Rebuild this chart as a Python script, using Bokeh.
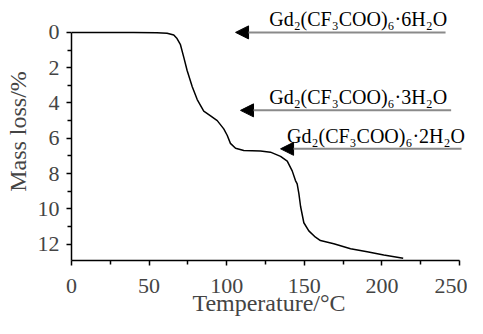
from bokeh.plotting import figure
from bokeh.models import Range1d, Arrow, NormalHead, FixedTicker, ColumnDataSource
from bokeh.core.properties import value
from bokeh.embed import file_html
from bokeh.resources import INLINE

# TG curve
temp = [0, 20, 40, 55, 61.6, 65.9, 68, 70.2, 72.4, 74.5, 77.8, 81, 85.2, 89.6, 93.9, 98.1,
        100.3, 102.4, 105.7, 111, 121.8, 128.2, 134.7, 139, 142.2, 144.3, 145.4, 146.5,
        147.6, 149.7, 152.9, 157.2, 160.4, 169, 179.8, 190.5, 201.2, 213.7]
mass_loss = [0.0, 0.0, 0.0, 0.02, 0.05, 0.15, 0.35, 0.7, 1.43, 2.16, 3.08, 3.81, 4.46, 4.73,
             5.0, 5.47, 5.83, 6.29, 6.57, 6.70, 6.72, 6.79, 7.03, 7.3, 7.85, 8.4, 8.59, 9.14,
             9.87, 10.79, 11.25, 11.61, 11.8, 11.98, 12.26, 12.44, 12.62, 12.8]

# annotations
labels = ["Gd\u2082(CF\u2083COO)\u2086\u00b76H\u2082O",
          "Gd\u2082(CF\u2083COO)\u2086\u00b73H\u2082O",
          "Gd\u2082(CF\u2083COO)\u2086\u00b72H\u2082O"]
arrow_tip_x = [105.7, 108.9, 134.7]
arrow_tail_x = [241.0, 244.6, 251.3]
arrow_y = [0.0, 4.42, 6.6]
label_right_x = [242.0, 242.0, 253.5]

x_ticks = [0, 50, 100, 150, 200, 250]
x_minor = [25, 75, 125, 175, 225]
y_ticks = [0, 2, 4, 6, 8, 10, 12]
y_minor = [1, 3, 5, 7, 9, 11]

FONT = "Liberation Serif"

p = figure(width=467, height=318, output_backend="svg", toolbar_location=None,
           x_range=Range1d(0, 254.5), y_range=Range1d(12.93, -1.694),
           min_border_left=71, min_border_right=1, min_border_top=2, min_border_bottom=57)
p.outline_line_color = None
p.grid.visible = False
p.background_fill_color = "white"

p.line(temp, mass_loss, line_color="black", line_width=1.5)

for i in range(len(labels)):
    p.add_layout(Arrow(end=NormalHead(size=13, fill_color="black", line_color="black", line_width=1),
                       x_start=arrow_tail_x[i], y_start=arrow_y[i],
                       x_end=arrow_tip_x[i], y_end=arrow_y[i],
                       line_color="#8a8a8a", line_width=2))

src = ColumnDataSource(dict(x=label_right_x, y=arrow_y, t=labels))
p.text(x="x", y="y", text="t", source=src, text_align="right", text_baseline="bottom",
       y_offset=-2, text_font=value(FONT), text_font_size="20px", text_color="black")

for ax in (p.xaxis[0], p.yaxis[0]):
    ax.axis_line_width = 1.5
    ax.major_tick_line_width = 1.5
    ax.minor_tick_line_width = 1.5
    ax.major_tick_in = 0
    ax.major_tick_out = 5
    ax.minor_tick_in = 0
    ax.minor_tick_out = 4
    ax.major_label_text_font = FONT
    ax.major_label_text_font_size = "22px"
    ax.axis_label_text_font = FONT
    ax.axis_label_text_font_size = "24px"
    ax.axis_label_text_font_style = "normal"

p.xaxis.bounds = (0, 250)
p.yaxis.bounds = (0, 12.93)
p.xaxis.ticker = FixedTicker(ticks=x_ticks, minor_ticks=x_minor)
p.yaxis.ticker = FixedTicker(ticks=y_ticks, minor_ticks=y_minor)
p.xaxis.axis_label = "Temperature/\u00b0C"
p.yaxis.axis_label = "Mass loss/%"
p.xaxis.major_label_standoff = 13
p.xaxis.axis_label_standoff = -6
p.yaxis.major_label_standoff = 7
p.yaxis.axis_label_standoff = 4

open("out.html", "w").write(file_html(p, INLINE))
